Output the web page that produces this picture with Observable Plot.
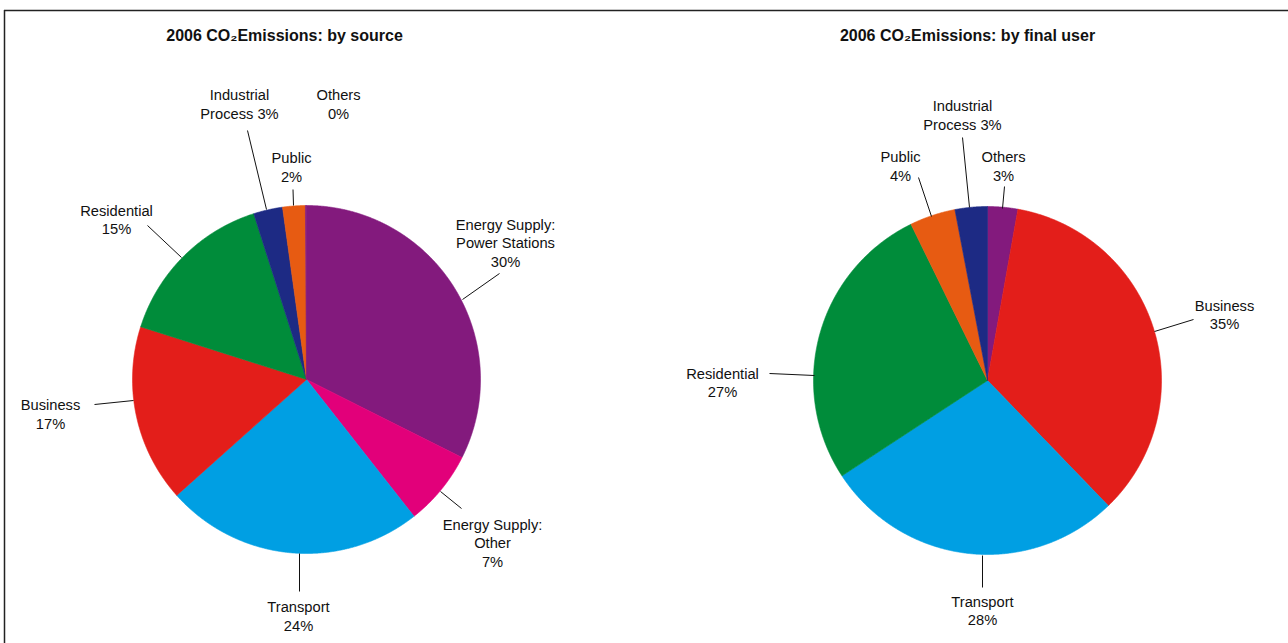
<!DOCTYPE html>
<html><head><meta charset="utf-8">
<script src="https://cdn.jsdelivr.net/npm/d3@7"></script>
<script src="https://cdn.jsdelivr.net/npm/@observablehq/plot@0.6"></script>
<style>body{margin:0;background:#fff}</style>
</head><body><div id="chart"></div>
<script>
// ---- Data: 2006 CO2 emissions by source (clockwise from 12 o'clock)
const sourceCategories = ["Energy Supply: Power Stations", "Energy Supply: Other", "Transport", "Business", "Residential", "Industrial Process", "Public", "Others"];
const sourceValues = [32.4, 7.0, 24.0, 16.5, 15.2, 2.7, 2.1, 0.1];
const sourceLabels = ["Energy Supply:\nPower Stations\n30%", "Energy Supply:\nOther\n7%", "Transport\n24%", "Business\n17%", "Residential\n15%", "Industrial\nProcess 3%", "Public\n2%", "Others\n0%"];

// ---- Data: 2006 CO2 emissions by final user (clockwise from 12 o'clock)
const userCategories = ["Others", "Business", "Transport", "Residential", "Public", "Industrial Process"];
const userValues = [2.8, 35.0, 28.0, 27.0, 4.25, 3.0];
const userLabels = ["Others\n3%", "Business\n35%", "Transport\n28%", "Residential\n27%", "Public\n4%", "Industrial\nProcess 3%"];

const titles = ["2006 CO\u2082Emissions: by source", "2006 CO\u2082Emissions: by final user"];

// ---- Styles / layout
const colorOf = {
  "Energy Supply: Power Stations": "#831a7d",
  "Energy Supply: Other": "#e2007a",
  "Transport": "#009fe3",
  "Business": "#e31e1a",
  "Residential": "#008c3a",
  "Industrial Process": "#1d2a84",
  "Public": "#e75b12",
  "Others": "#831a7d"
};
const W = 1288, H = 643;
const pies = [
  {cx: 306, cy: 379, r: 174, cats: sourceCategories, vals: sourceValues, labels: sourceLabels, titleX: 284,
   labelPos: {"Energy Supply: Power Stations": [505, 242], "Energy Supply: Other": [492, 542], "Transport": [298, 615], "Business": [50, 413], "Residential": [116, 218.5], "Industrial Process": [239, 103], "Public": [291, 166], "Others": [338, 103]},
   leaders: {"Energy Supply: Power Stations": [462, 299, 499, 273], "Energy Supply: Other": [440, 491, 461, 508], "Transport": [299, 553, 299, 591], "Business": [133, 400, 94, 404], "Residential": [181, 257, 147, 225], "Industrial Process": [266, 209, 247, 130], "Public": [293, 205, 292.5, 189]}},
  {cx: 987, cy: 380, r: 174, cats: userCategories, vals: userValues, labels: userLabels, titleX: 967,
   labelPos: {"Others": [1003, 165], "Business": [1224, 313.5], "Transport": [982, 609.5], "Residential": [722, 381.5], "Public": [900, 165], "Industrial Process": [962, 114]},
   leaders: {"Others": [1002, 208, 1004, 186], "Business": [1154, 331, 1193, 319], "Transport": [982, 555, 982, 587], "Residential": [814, 375, 769, 373], "Public": [931, 216, 918, 177], "Industrial Process": [969, 207, 962, 137]}}
];

// ---- Build slice polygons from values
const slicePts = [], labelRows = [], leaderRows = [], titleRows = [];
pies.forEach((p, pi) => {
  const total = d3.sum(p.vals);
  let acc = 0;
  p.cats.forEach((c, i) => {
    const a0 = acc / total * 2 * Math.PI;
    acc += p.vals[i];
    const a1 = acc / total * 2 * Math.PI;
    const key = pi + "-" + i;
    const color = colorOf[c];
    slicePts.push({key, color, x: p.cx, y: p.cy});
    const n = Math.max(2, Math.ceil((a1 - a0) / (Math.PI / 720)));
    for (let k = 0; k <= n; k++) {
      const a = a0 + (a1 - a0) * k / n;
      slicePts.push({key, color, x: p.cx + p.r * Math.sin(a), y: p.cy - p.r * Math.cos(a)});
    }
    slicePts.push({key, color, x: p.cx, y: p.cy});
    const lp = p.labelPos[c];
    labelRows.push({x: lp[0], y: lp[1], text: p.labels[i]});
    const ld = p.leaders[c];
    if (ld) leaderRows.push({x1: ld[0], y1: ld[1], x2: ld[2], y2: ld[3]});
  });
  titleRows.push({x: p.titleX, y: 35, text: titles[pi]});
});

const chart = Plot.plot({
  width: W, height: H,
  margin: 0,
  x: {domain: [0, W], range: [0, W], axis: null},
  y: {domain: [0, H], range: [0, H], axis: null},
  color: {type: "identity"},
  style: {fontFamily: "'Liberation Sans', Arial, sans-serif", background: "#fff"},
  marks: [
    Plot.ruleY([10], {x1: 4, x2: W, stroke: "#222", strokeWidth: 1.5}),
    Plot.ruleX([4], {y1: 10, y2: H, stroke: "#222", strokeWidth: 1.5}),
    Plot.line(slicePts, {x: "x", y: "y", z: "key", fill: "color", stroke: "color", strokeWidth: 0.6, curve: "linear"}),
    Plot.link(leaderRows, {x1: "x1", y1: "y1", x2: "x2", y2: "y2", stroke: "#111", strokeWidth: 1}),
    Plot.text(labelRows, {x: "x", y: "y", text: "text", fontSize: 14.7, fill: "#111", lineHeight: 1.26, textAnchor: "middle", lineAnchor: "middle"}),
    Plot.text(titleRows, {x: "x", y: "y", text: "text", fontSize: 16, fontWeight: "bold", fill: "#111", textAnchor: "middle"})
  ]
});
document.getElementById("chart").appendChild(chart);
</script>
</body></html>
